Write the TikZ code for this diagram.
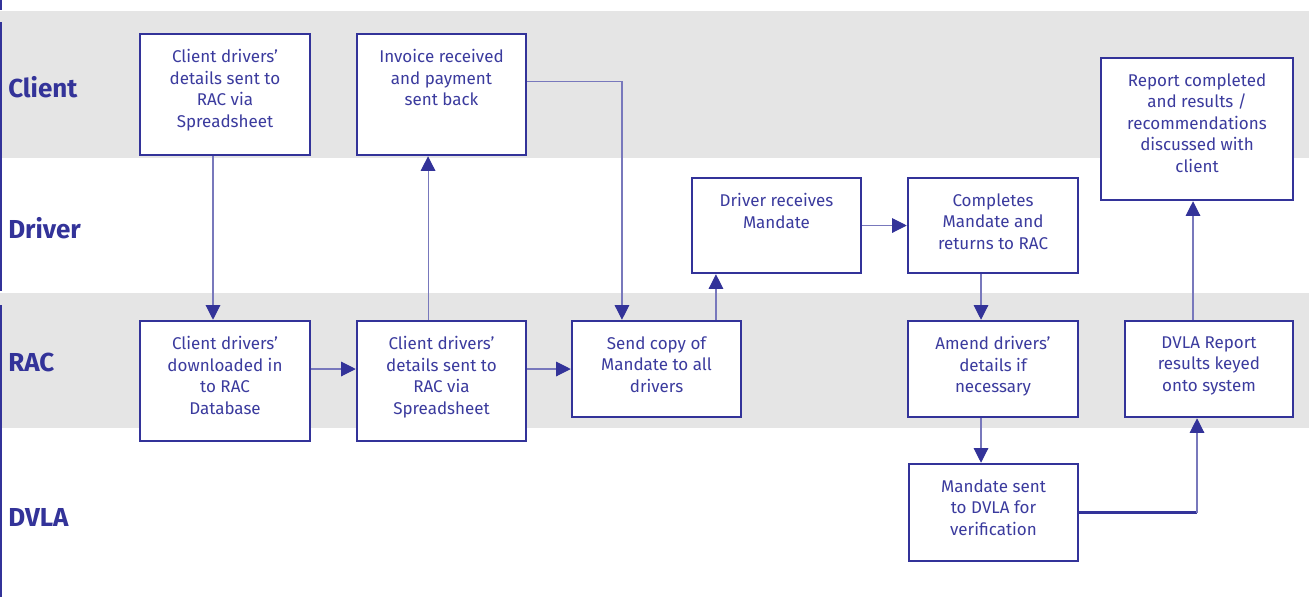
\documentclass[tikz,border=0pt]{standalone}
\usepackage{fontspec}
\setmainfont{Fira Sans}
\usetikzlibrary{arrows.meta}
\definecolor{navy}{HTML}{333399}
\definecolor{txt}{HTML}{3B3B9E}
\definecolor{conn}{HTML}{7878BC}
\definecolor{band}{HTML}{E5E5E5}
\begin{document}
\begin{tikzpicture}[x=0.75pt,y=-0.75pt,
  box/.style={draw=navy,line width=1.9pt,fill=white,inner sep=0pt},
  lbl/.style={anchor=north,inner sep=0pt,yshift=-12.3pt,align=center,text=txt,
    font=\fontsize{12.75}{16.1}\selectfont},
  lane/.style={anchor=west,text=navy,font=\fontsize{19.5}{22}\selectfont\bfseries,inner sep=0pt},
  conn/.style={draw=conn,line width=0.8pt,-{Triangle[width=11pt,length=11pt,fill=navy,color=navy]}},
  plain/.style={draw=conn,line width=0.8pt},
  thickl/.style={draw=navy,line width=1.6pt}]
\useasboundingbox (0,0) rectangle (1309,597);
% lane bands
\fill[band] (0,11) rectangle (1309,158);
\fill[band] (0,293) rectangle (1309,428);
\draw[navy,line width=1.5pt] (1,0) -- (1,10) (1,22) -- (1,291) (1,305) -- (1,597);
% lane labels
\node[lane] (lc) at (8,87) {Client};
\node[lane] (ld) at (8,228) {Driver};
\node[lane] (lr) at (8,362) {RAC};
\node[lane] (lv) at (8,517) {DVLA};
% boxes
\node[box,minimum width=127.5pt,minimum height=90.75pt,
  label={[lbl]north:{Client drivers’\\details sent to\\RAC via\\Spreadsheet}}] (c1) at (225,94.5) {};
\node[box,minimum width=126.75pt,minimum height=90.75pt,
  label={[lbl]north:{Invoice received\\and payment\\sent back}}] (c2) at (441.5,94.5) {};
\node[box,minimum width=144pt,minimum height=106.5pt,
  label={[lbl]north:{Report completed\\and results /\\recommendations\\discussed with\\client}}] (rep) at (1197,129) {};
\node[box,minimum width=126.75pt,minimum height=71.25pt,
  label={[lbl]north:{Driver receives\\Mandate}}] (d1) at (776.5,225.5) {};
\node[box,minimum width=127.5pt,minimum height=71.25pt,
  label={[lbl]north:{Completes\\Mandate and\\returns to RAC}}] (d2) at (993,225.5) {};
\node[box,minimum width=127.5pt,minimum height=90pt,
  label={[lbl]north:{Client drivers’\\downloaded in\\to RAC\\Database}}] (r1) at (225,381) {};
\node[box,minimum width=126.75pt,minimum height=90pt,
  label={[lbl]north:{Client drivers’\\details sent to\\RAC via\\Spreadsheet}}] (r2) at (441.5,381) {};
\node[box,minimum width=126.75pt,minimum height=72pt,
  label={[lbl]north:{Send copy of\\Mandate to all\\drivers}}] (r3) at (656.5,369) {};
\node[box,minimum width=127.5pt,minimum height=72pt,
  label={[lbl]north:{Amend drivers’\\details if\\necessary}}] (r4) at (993,369) {};
\node[box,minimum width=126pt,minimum height=72pt,
  label={[lbl]north:{DVLA Report\\results keyed\\onto system}}] (r5) at (1209,369) {};
\node[box,minimum width=126.75pt,minimum height=72.75pt,
  label={[lbl]north:{Mandate sent\\to DVLA for\\verification}}] (v1) at (993.5,512.5) {};
% connectors
\draw[conn] ([xshift=-9pt]c1.south) -- ([xshift=-9pt]r1.north);
\draw[conn] ([yshift=9pt]r1.east) -- ([yshift=9pt]r2.west);
\draw[conn] ([xshift=-10.1pt]r2.north) -- ([xshift=-10.1pt]c2.south);
\draw[conn] ([yshift=10.1pt]c2.east) -| ([xshift=-25.9pt]r3.north);
\draw[conn] (r2.east |- r3.west) -- (r3.west);
\draw[conn] ([xshift=44.6pt]r3.north) -- ([xshift=44.6pt]r3.north |- d1.south);
\draw[conn] (d1.east) -- (d2.west);
\draw[conn] ([xshift=-9pt]d2.south) -- ([xshift=-9pt]d2.south |- r4.north);
\draw[conn] ([xshift=-9pt]r4.south) -- ([xshift=-9pt]r4.south |- v1.north);
\coordinate (k) at ([xshift=-9pt]r5.south);
\draw[thickl] (v1.east) -- (v1.east -| k);
\draw[conn] (v1.east -| k) -- (k);
\draw[conn] ([xshift=-12pt]r5.north) -- ([xshift=-12pt]r5.north |- rep.south);
\end{tikzpicture}
\end{document}
